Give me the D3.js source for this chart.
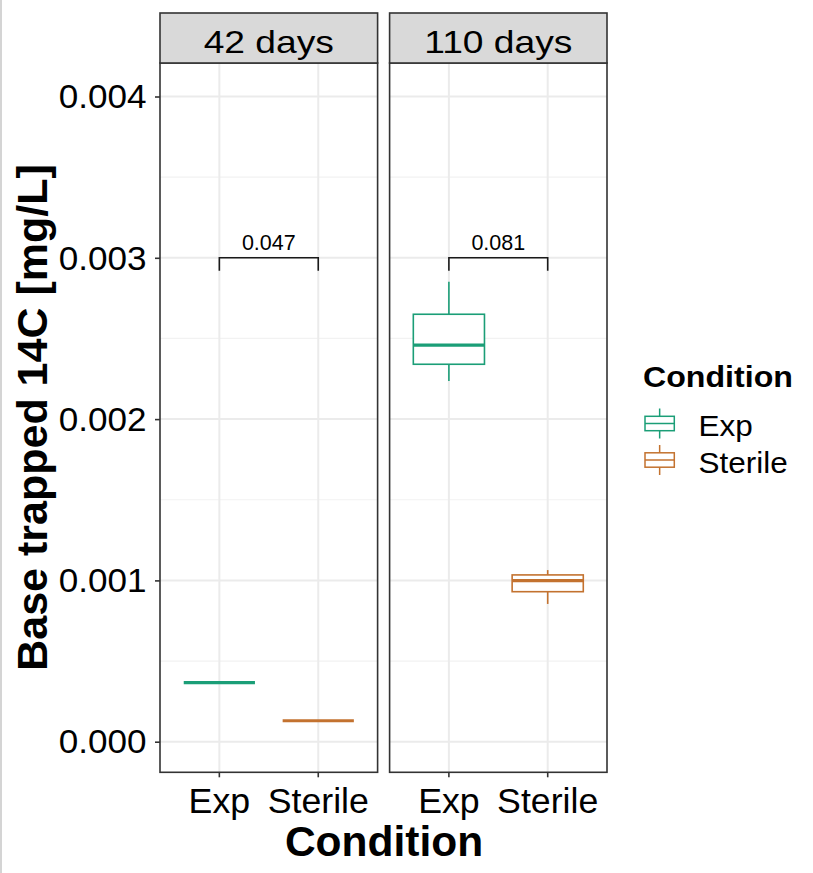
<!DOCTYPE html>
<html>
<head>
<meta charset="utf-8">
<script src="https://cdn.jsdelivr.net/npm/d3@7"></script>
<style>
  html, body { margin: 0; padding: 0; background: #fff; }
  svg { display: block; }
  text { font-family: "Liberation Sans", Arial, "DejaVu Sans", sans-serif; fill: #000; }
</style>
</head>
<body>
<svg id="chart" width="813" height="873"></svg>
<script>
// Facets, groups and box statistics (per facet, then per condition)
const days = ["42 days", "110 days"];
const conditions = ["Exp", "Sterile"];
const whiskerLow  = [[0.000366, 0.000130], [0.002236, 0.000854]];
const lowerQ      = [[0.000366, 0.000130], [0.002340, 0.000930]];
const medianVal   = [[0.000366, 0.000130], [0.002459, 0.000999]];
const upperQ      = [[0.000366, 0.000130], [0.002650, 0.001034]];
const whiskerHigh = [[0.000366, 0.000130], [0.002852, 0.001064]];
const pValues = ["0.047", "0.081"];
const bracketLevel = 0.003;
const yTicks = [0, 0.001, 0.002, 0.003, 0.004];
const yTickLabels = ["0.000", "0.001", "0.002", "0.003", "0.004"];
const yMinorTicks = [0.0005, 0.0015, 0.0025, 0.0035];

const colors = { Exp: "#1B9E77", Sterile: "#C3722F" };

const svg = d3.select("#chart");

// faint frame line along the left edge of the figure
svg.append("line").attr("x1", 1).attr("x2", 1).attr("y1", 0).attr("y2", 873)
  .attr("stroke", "#d4d4d4").attr("stroke-width", 2);

const stripTop = 13, panelTop = 63, panelBottom = 772.3;
const panelX = [[160, 377.6], [389.6, 607]];

const y = d3.scaleLinear().domain([-0.0001897, 0.0042077]).range([panelBottom, panelTop]);

// text with an optional horizontal stretch
function label(parent, x, yy, str, opts) {
  const g = parent.append("g")
    .attr("transform", `translate(${x},${yy})${opts.rotate ? ` rotate(${opts.rotate})` : ""} scale(${opts.sx || 1},1)`);
  g.append("text")
    .attr("text-anchor", opts.anchor || "middle")
    .attr("font-size", opts.size)
    .attr("font-weight", opts.bold ? "bold" : "normal")
    .attr("fill", opts.fill || "#000")
    .text(str);
  return g;
}

days.forEach((day, p) => {
  const [x0, x1] = panelX[p];
  const x = d3.scaleLinear().domain([0.4, 2.6]).range([x0, x1]);
  const bandHalf = (x(1.36) - x(1));
  const g = svg.append("g");

  // panel background and grid
  g.append("rect").attr("x", x0).attr("y", panelTop).attr("width", x1 - x0)
    .attr("height", panelBottom - panelTop).attr("fill", "#fff");
  yMinorTicks.forEach(t => {
    g.append("line").attr("x1", x0).attr("x2", x1).attr("y1", y(t)).attr("y2", y(t))
      .attr("stroke", "#f2f2f2").attr("stroke-width", 1.2);
  });
  yTicks.forEach(t => {
    g.append("line").attr("x1", x0).attr("x2", x1).attr("y1", y(t)).attr("y2", y(t))
      .attr("stroke", "#ebebeb").attr("stroke-width", 2);
  });
  conditions.forEach((c, i) => {
    g.append("line").attr("x1", x(i + 1)).attr("x2", x(i + 1)).attr("y1", panelTop).attr("y2", panelBottom)
      .attr("stroke", "#ebebeb").attr("stroke-width", 2);
  });

  // boxplots
  conditions.forEach((c, i) => {
    const cx = x(i + 1);
    const col = colors[c];
    const lo = whiskerLow[p][i], q1 = lowerQ[p][i], md = medianVal[p][i], q3 = upperQ[p][i], hi = whiskerHigh[p][i];
    g.append("line").attr("x1", cx).attr("x2", cx).attr("y1", y(q3)).attr("y2", y(hi))
      .attr("stroke", col).attr("stroke-width", 1.6);
    g.append("line").attr("x1", cx).attr("x2", cx).attr("y1", y(q1)).attr("y2", y(lo))
      .attr("stroke", col).attr("stroke-width", 1.6);
    g.append("rect").attr("x", cx - bandHalf).attr("width", 2 * bandHalf)
      .attr("y", y(q3)).attr("height", Math.max(0, y(q1) - y(q3)))
      .attr("fill", "#fff").attr("stroke", col).attr("stroke-width", 1.6);
    g.append("line").attr("x1", cx - bandHalf).attr("x2", cx + bandHalf).attr("y1", y(md)).attr("y2", y(md))
      .attr("stroke", col).attr("stroke-width", 3.2);
  });

  // significance bracket
  const by = y(bracketLevel);
  g.append("path")
    .attr("d", `M${x(1)},${by + 13}V${by}H${x(2)}V${by + 13}`)
    .attr("fill", "none").attr("stroke", "#1a1a1a").attr("stroke-width", 1.6);
  label(g, (x(1) + x(2)) / 2, by - 7.5, pValues[p], { size: 21.5, fill: "#222" });

  // panel border
  g.append("rect").attr("x", x0).attr("y", panelTop).attr("width", x1 - x0)
    .attr("height", panelBottom - panelTop).attr("fill", "none")
    .attr("stroke", "#333").attr("stroke-width", 1.6);

  // strip
  g.append("rect").attr("x", x0).attr("y", stripTop).attr("width", x1 - x0)
    .attr("height", panelTop - stripTop).attr("fill", "#d9d9d9")
    .attr("stroke", "#333").attr("stroke-width", 1.6);
  label(g, (x0 + x1) / 2, 53.3, day, { size: 31, sx: 1.2, fill: "#1a1a1a" });

  // x axis ticks and labels
  conditions.forEach((c, i) => {
    g.append("line").attr("x1", x(i + 1)).attr("x2", x(i + 1))
      .attr("y1", panelBottom).attr("y2", panelBottom + 5)
      .attr("stroke", "#333").attr("stroke-width", 1.6);
    label(g, x(i + 1), 813.3, c, { size: 35, sx: 1.02, fill: "#111" });
  });
});

// y axis
const yAxis = d3.axisLeft(y).tickValues(yTicks).tickSize(5)
  .tickFormat((d, i) => yTickLabels[i]);
const ya = svg.append("g").attr("transform", `translate(${panelX[0][0]},0)`).call(yAxis);
ya.select(".domain").remove();
ya.selectAll(".tick line").attr("stroke", "#333").attr("stroke-width", 1.6);
ya.selectAll(".tick text").remove();
yTicks.forEach((t, i) => {
  label(svg, 146.5, y(t) + 11.7, yTickLabels[i], { size: 32.5, sx: 1.08, anchor: "end", fill: "#111" });
});

// axis titles
label(svg, 384, 856, "Condition", { size: 42.5, bold: true });
label(svg, 47, 417.5, "Base trapped 14C [mg/L]", { size: 43, bold: true, rotate: -90 });

// legend
label(svg, 643, 387.3, "Condition", { size: 29.5, bold: true, sx: 1.09, anchor: "start" });
const keyCenters = [423.5, 460];
const keyLeft = 645, keyRight = 674.3, keyMid = (keyLeft + keyRight) / 2;
conditions.forEach((c, i) => {
  const cy = keyCenters[i];
  const col = colors[c];
  const lg = svg.append("g");
  lg.append("line").attr("x1", keyMid).attr("x2", keyMid).attr("y1", cy - 15).attr("y2", cy + 15)
    .attr("stroke", col).attr("stroke-width", 1.5);
  lg.append("rect").attr("x", keyLeft).attr("y", cy - 7.2).attr("width", keyRight - keyLeft).attr("height", 14.4)
    .attr("fill", "#fff").attr("stroke", col).attr("stroke-width", 1.5);
  lg.append("line").attr("x1", keyLeft).attr("x2", keyRight).attr("y1", cy).attr("y2", cy)
    .attr("stroke", col).attr("stroke-width", 1.5);
  label(svg, 698.5, cy + 12.5, c, { size: 30, sx: 1.05, anchor: "start", fill: "#111" });
});
</script>
</body>
</html>
